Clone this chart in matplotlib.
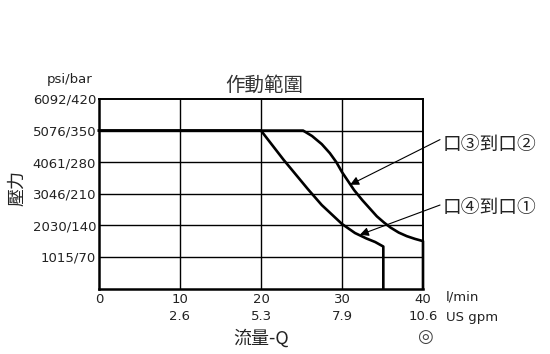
#
# Operating range chart: pressure vs flow
#
import matplotlib
matplotlib.use("Agg")
import matplotlib.pyplot as plt

# axis ticks
flow_ticks = [0, 10, 20, 30, 40]
gpm_labels = ["", "2.6", "5.3", "7.9", "10.6"]
bar_ticks = [70, 140, 210, 280, 350, 420]
psi_labels = ["1015/70", "2030/140", "3046/210", "4061/280", "5076/350", "6092/420"]

# port 4 -> port 1
flow_41 = [0, 20, 22.8, 25.8, 27.5, 30, 31.6, 33, 34.1, 35.1, 35.1]
press_41 = [350, 350, 285, 220, 185, 143, 123, 111, 103, 93, 0]

# port 3 -> port 2
flow_32 = [0, 25.2, 26.3, 27.5, 28.5, 29.3, 30, 31.5, 32.5, 33.5, 34.3, 35.2, 36, 37, 38, 39, 40, 40]
press_32 = [350, 350, 338, 320, 300, 280, 258, 218, 196, 176, 160, 146, 135, 124, 116, 110, 105, 0]

label_32 = "口③到口②"
label_41 = "口④到口①"

cjk = ["Noto Sans CJK TC", "DejaVu Sans"]
plt.rcParams["font.family"] = cjk
txt_col = "#222222"

W, H = 550, 354
fig = plt.figure(figsize=(W / 100, H / 100), dpi=100)
ax = fig.add_axes([99 / W, (H - 288.5) / H, 324 / W, 189.5 / H])


def fx(px):
    return px / W


def fy(py):
    return 1 - py / H


ax.set_xlim(0, 40)
ax.set_ylim(0, 420)

# grid
for x in flow_ticks[1:-1]:
    ax.axvline(x, color="black", lw=1.0, zorder=1)
for y in bar_ticks[:-1]:
    ax.axhline(y, color="black", lw=1.0, zorder=1)
for s in ax.spines.values():
    s.set_linewidth(1.4)
ax.spines["left"].set_linewidth(1.8)
ax.spines["bottom"].set_linewidth(1.8)

# curves
ax.plot(flow_41, press_41, color="black", lw=1.9, solid_joinstyle="round", zorder=3, clip_on=False)
ax.plot(flow_32, press_32, color="black", lw=1.9, solid_joinstyle="round", zorder=3, clip_on=False)

# ticks
ax.set_xticks(flow_ticks)
ax.set_xticklabels([f"{f}\n{g}" if g else f"{f}" for f, g in zip(flow_ticks, gpm_labels)],
                   fontsize=9.5, color=txt_col, linespacing=1.45, va="top", family="DejaVu Sans")
ax.set_yticks(bar_ticks)
ax.set_yticklabels(psi_labels, fontsize=9.5, color=txt_col, family="DejaVu Sans")
ax.tick_params(axis="both", length=0)
ax.tick_params(axis="x", pad=3)
ax.tick_params(axis="y", pad=2)

# unit texts
fig.text(fx(92), fy(79), "psi/bar", ha="right", va="center", fontsize=9.5, color=txt_col, family="DejaVu Sans")
fig.text(fx(446), fy(297), "l/min", ha="left", va="center", fontsize=9.5, color=txt_col, family="DejaVu Sans")
fig.text(fx(446), fy(317), "US gpm", ha="left", va="center", fontsize=9.5, color=txt_col, family="DejaVu Sans")

# titles
fig.text(fx(264), fy(85), "作動範圍", ha="center", va="center", fontsize=14, color="#333333")
fig.text(fx(261), fy(338), "流量-Q", ha="center", va="center", fontsize=13, color="#222222")
fig.text(fx(17), fy(188), "壓力", ha="center", va="center", rotation=90, fontsize=13, color="#222222")
fig.text(fx(425), fy(337), "◎", ha="center", va="center", fontsize=13, color="#444444", family="DejaVu Sans")

# annotations
arrow = dict(arrowstyle="-|>", lw=0.8, color="black", mutation_scale=13, shrinkA=0, shrinkB=0)
ax.annotate("", xy=(31.0, 230), xytext=(42.1, 330), arrowprops=arrow, annotation_clip=False)
ax.annotate("", xy=(32.2, 119), xytext=(42.1, 185), arrowprops=arrow, annotation_clip=False)
fig.text(fx(443), fy(144), label_32, ha="left", va="center", fontsize=13.5, color="#222222")
fig.text(fx(443), fy(207), label_41, ha="left", va="center", fontsize=13.5, color="#222222")

fig.savefig("out.png", dpi=100)
